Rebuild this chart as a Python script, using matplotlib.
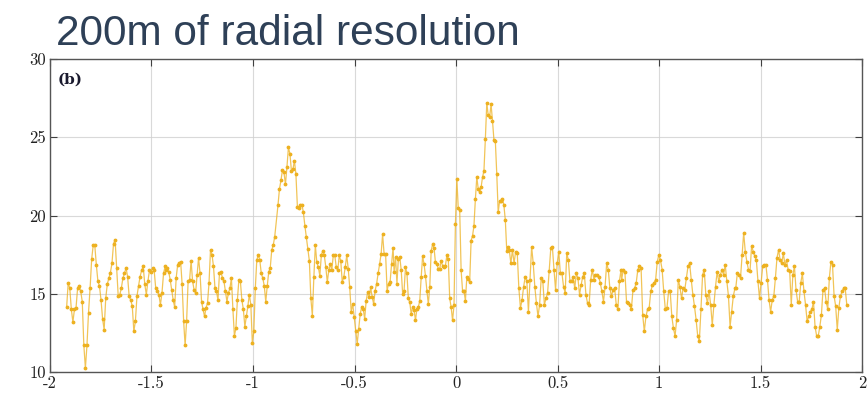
import matplotlib
matplotlib.use("Agg")
import matplotlib.pyplot as plt
import numpy as np

## DATA (one list per stretch of the trace) ###
seg_x_ranges = [(-1.918, -1.433), (-1.430, -0.893), (-0.877, -0.310), (-0.305, 0.250),
                (0.2545, 0.813), (0.816, 1.374), (1.378, 1.925)]

y_seg1 = [14.15, 15.7, 15.35, 14.0, 13.2, 14.0, 14.1, 15.35, 15.5, 15.15, 14.5, 11.7, 10.25, 11.7,
          13.8, 15.35, 17.2, 18.1, 18.1, 16.85, 15.8, 15.5, 14.6, 13.4, 12.7, 14.7, 15.6, 16.0,
          16.35, 16.95, 18.2, 18.45, 16.65, 14.85, 14.95, 15.35, 16.0, 16.3, 16.65, 16.1, 14.85,
          14.6, 14.2, 12.6, 13.25, 14.85, 15.5, 16.1, 16.5, 16.75, 15.6, 14.95, 15.8, 16.5, 16.4,
          16.65, 16.5, 15.35, 15.15, 14.95, 14.3, 15.05, 16.3, 16.75]
y_seg2 = [16.5, 16.65, 16.4, 15.9, 15.25, 14.6, 14.15, 16.0, 16.85, 16.95, 17.05, 15.6, 13.25, 11.7,
          13.25, 15.8, 15.9, 17.1, 15.8, 15.25, 15.05, 16.2, 17.3, 16.3, 14.5, 14.0, 13.55, 14.1,
          14.4, 15.7, 17.8, 17.5, 16.75, 15.35, 15.15, 14.6, 16.3, 16.4, 16.0, 15.8, 15.15, 14.5,
          15.05, 15.35, 16.0, 14.0, 12.3, 12.8, 14.6, 15.9, 15.8, 14.6, 14.0, 12.9, 13.55, 14.2,
          14.95, 14.3, 11.85, 12.6, 15.35, 17.15, 17.5, 17.15, 16.3, 16.0, 15.5, 14.5, 15.5, 16.4,
          16.65, 17.8, 18.1, 18.65]
y_seg3 = [20.65, 21.7, 22.25, 22.9, 22.75, 22.0, 23.1, 24.35, 23.95, 22.85, 22.95, 23.5, 22.65,
          20.55, 20.5, 20.7, 20.7, 20.2, 19.35, 18.6, 17.85, 17.1, 14.7, 13.6, 16.05, 18.1, 17.0,
          16.7, 16.15, 17.45, 17.75, 17.45, 16.7, 15.75, 16.5, 16.9, 16.5, 17.45, 17.45, 16.7,
          16.5, 17.45, 17.1, 15.75, 16.05, 16.7, 17.45, 16.6, 15.4, 13.85, 14.35, 13.5, 12.65,
          11.8, 12.75, 13.7, 14.15, 14.05, 13.4, 14.55, 15.1, 14.8, 15.4, 14.8, 14.35, 15.2,
          15.65, 16.3, 16.9, 17.55, 18.8, 17.55, 17.55, 15.2, 15.65, 15.75, 16.9, 17.95]
y_seg4 = [16.4, 17.35, 15.65, 17.25, 17.35, 16.5, 15.0, 15.2, 16.7, 16.3, 14.7, 14.45, 13.7, 14.15,
          13.95, 13.3, 14.05, 14.15, 14.55, 16.05, 17.4, 16.9, 16.15, 15.2, 14.35, 15.4, 17.75,
          18.15, 17.95, 17.0, 16.9, 16.6, 16.6, 17.1, 16.8, 16.7, 16.8, 17.45, 17.25, 14.7, 14.15,
          13.3, 14.25, 19.45, 22.35, 20.45, 20.35, 16.5, 15.2, 15.2, 14.55, 16.05, 15.95, 15.75,
          18.4, 18.7, 19.35, 21.05, 22.45, 21.7, 21.5, 21.8, 22.45, 22.85, 24.9, 27.2, 26.4, 26.3,
          27.1, 26.05, 24.85, 24.75, 22.65, 20.2, 20.95, 20.95, 21.05, 20.65, 19.7, 17.75]
y_seg5 = [18.0, 17.8, 16.95, 17.8, 16.95, 17.7, 17.6, 15.35, 14.1, 14.6, 15.45, 16.1, 15.8, 13.85,
          15.9, 18.0, 16.95, 15.45, 14.4, 13.55, 14.3, 16.0, 15.8, 14.3, 14.7, 15.05, 16.45, 17.9,
          18.0, 16.55, 15.25, 16.95, 17.7, 16.3, 16.3, 15.45, 15.05, 17.6, 17.15, 15.8, 15.8, 16.1,
          15.35, 16.3, 16.0, 14.95, 15.55, 16.1, 16.3, 14.95, 14.4, 14.3, 15.9, 16.55, 15.9, 16.2,
          16.2, 16.1, 15.7, 15.15, 14.5, 15.45, 16.95, 16.55, 15.35, 14.85, 15.25, 15.35, 14.3,
          14.0, 15.8, 16.55]
y_seg6 = [15.9, 16.55, 16.4, 14.5, 14.4, 14.3, 14.0, 15.25, 15.35, 15.7, 16.55, 16.75, 16.65, 13.65,
          12.6, 13.55, 14.0, 14.1, 15.15, 15.55, 15.7, 15.9, 17.05, 17.5, 17.15, 16.55, 15.15,
          14.0, 14.1, 15.15, 15.15, 13.55, 12.8, 12.3, 13.35, 15.9, 15.45, 14.7, 15.35, 15.25,
          16.0, 16.75, 16.95, 15.9, 14.95, 14.2, 13.35, 12.3, 11.95, 14.0, 16.2, 16.55, 14.95,
          14.4, 15.15, 14.3, 13.0, 14.3, 15.45, 16.4, 15.8, 16.2, 16.55, 16.2, 16.85, 15.8, 14.85,
          12.9, 13.85, 14.85, 15.35]
y_seg7 = [15.35, 16.3, 16.2, 16.0, 17.5, 18.9, 17.7, 17.05, 16.55, 16.45, 18.05, 17.7, 17.4, 17.15,
          15.8, 14.7, 15.7, 16.75, 16.85, 16.85, 15.9, 14.6, 13.85, 14.6, 14.85, 16.0, 17.3, 17.8,
          17.15, 16.95, 17.6, 16.85, 17.15, 16.55, 16.45, 14.3, 16.2, 16.75, 15.25, 14.5, 14.5,
          15.7, 16.3, 15.15, 14.3, 13.25, 13.55, 13.85, 14.0, 14.5, 12.9, 12.3, 12.3, 12.9, 13.65,
          15.25, 15.35, 14.5, 14.0, 16.0, 17.05, 16.85, 14.85, 14.2, 12.7, 14.1, 14.85, 15.15,
          15.35, 15.35, 14.3]

x_ticks = [-2, -1.5, -1, -0.5, 0, 0.5, 1, 1.5, 2]
x_tick_labels = ["-2", "-1.5", "-1", "-0.5", "0", "0.5", "1", "1.5", "2"]
y_ticks = [10, 15, 20, 25, 30]
title_text = "200m of radial resolution"
panel_label = "(b)"
#############

segments = [y_seg1, y_seg2, y_seg3, y_seg4, y_seg5, y_seg6, y_seg7]
x_data = np.concatenate([np.linspace(a, b, len(s)) for (a, b), s in zip(seg_x_ranges, segments)])
y_data = np.concatenate([np.array(s) for s in segments])

plt.rcParams['axes.unicode_minus'] = False
fig = plt.figure(figsize=(8.68, 3.99), dpi=100)
ax = fig.add_axes([0.0576, 0.0677, 0.9355, 0.7843])

line_color = '#EDB120'
ax.plot(x_data, y_data, '-', color=line_color, linewidth=0.9, alpha=0.75, zorder=3)
ax.plot(x_data, y_data, '.', color=line_color, markersize=3.5, zorder=4)

ax.set_xlim(-2, 2)
ax.set_ylim(10, 30)
ax.set_xticks(x_ticks)
ax.set_xticklabels(x_tick_labels)
ax.set_yticks(y_ticks)
ax.grid(True, color='#d0d0d0', linewidth=0.8, alpha=0.8)
ax.set_axisbelow(True)

serif = ['cmr10', 'DejaVu Serif']
for lab in ax.get_xticklabels() + ax.get_yticklabels():
    lab.set_family(serif)
    lab.set_fontsize(12)
    lab.set_color('#222222')
ax.tick_params(direction='in', top=True, right=True, length=5, width=0.8,
               color='#404040', pad=3)
for sp in ax.spines.values():
    sp.set_color('#555555')
    sp.set_linewidth(1.0)

ax.text(0.01, 0.955, panel_label, transform=ax.transAxes, fontsize=11,
        fontweight='bold', family=['DejaVu Serif'], color='#1a1a2e', va='top', ha='left')

fig.text(0.064, 0.887, title_text, fontsize=30.5, family=['Liberation Sans'],
         color='#2E4057', va='baseline', ha='left')

fig.savefig('out.png', dpi=100)
